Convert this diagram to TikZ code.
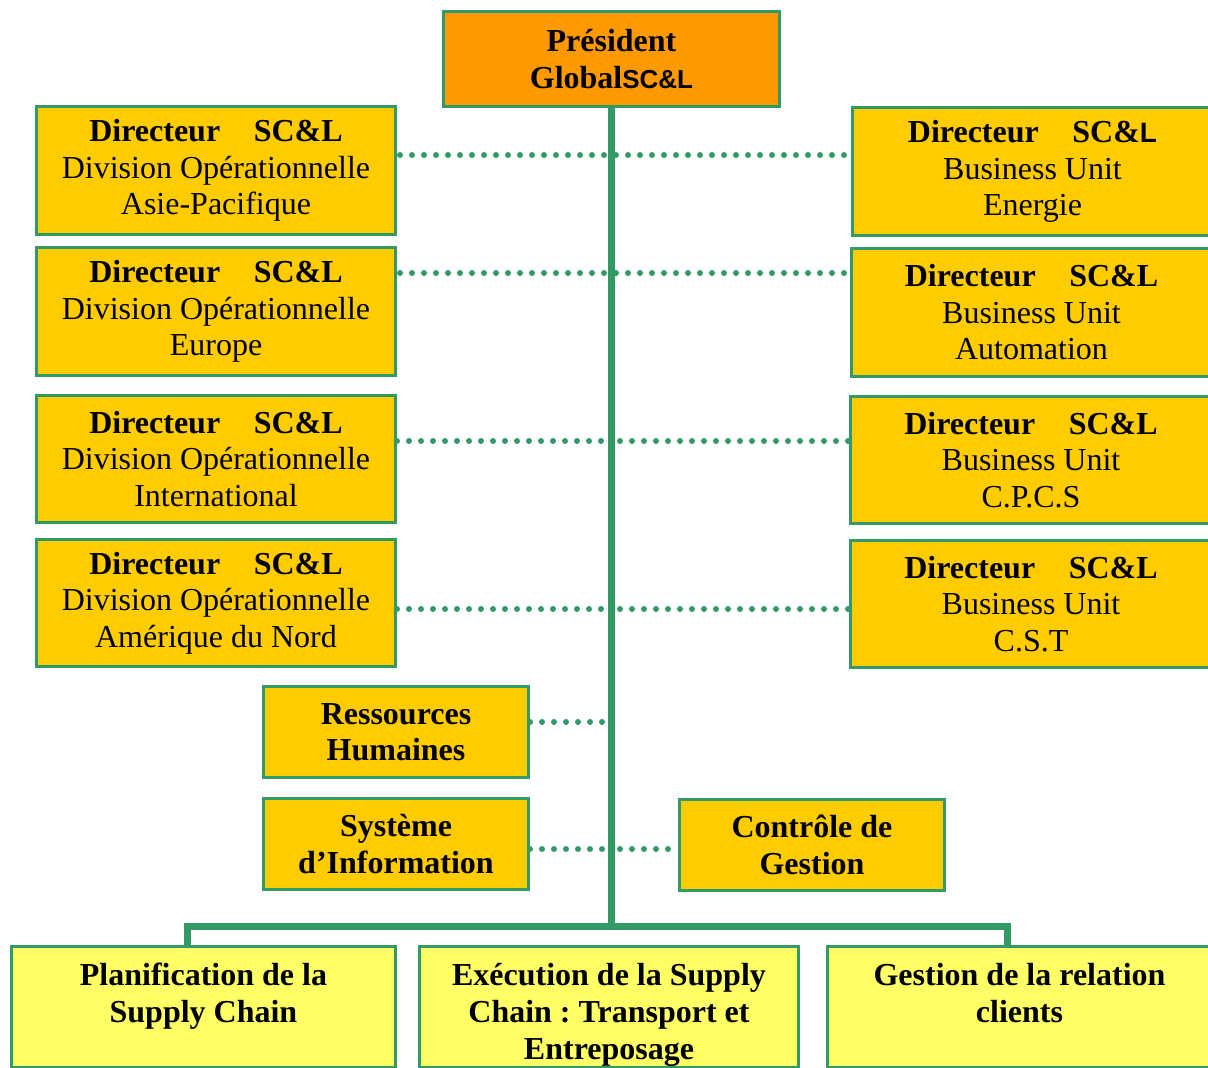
\documentclass[tikz,border=0pt]{standalone}
\usepackage{fontspec}
\setmainfont{Liberation Serif}
\newfontfamily\sansf{Liberation Sans}
\usetikzlibrary{calc}
\definecolor{gr}{HTML}{339966}
\definecolor{orng}{HTML}{FF9900}
\definecolor{gold}{HTML}{FFCC00}
\definecolor{lyel}{HTML}{FFFF66}
\tikzset{
  box/.style={draw=gr, line width=3pt, inner sep=0pt, align=center, anchor=north west,
    font=\fontsize{32}{36.5}\selectfont\frenchspacing},
  dir/.style={box, fill=gold, minimum width=359pt, minimum height=128pt},
  small/.style={box, fill=gold, minimum width=265pt, minimum height=91pt, font=\fontsize{32}{36.5}\selectfont\bfseries},
  bottom/.style={box, fill=lyel, minimum height=121pt, font=\fontsize{32}{37}\selectfont\bfseries\frenchspacing},
  dots/.style={draw=gr, line width=6pt, line cap=round, dash pattern=on 0pt off 12pt},
  trunk/.style={draw=gr, line width=7pt}
}
\newcommand{\dirtitle}{\textbf{Directeur\hspace{1.05em}SC\&L}}
\newcommand{\dirtitleS}{\textbf{Directeur\hspace{1.05em}SC\&{\sansf\fontsize{28}{36.5}\selectfont L}}}
\newcommand{\topstrut}{\rule{0pt}{38pt}}
\newcommand{\botstrut}{\rule[-8pt]{0pt}{8pt}}
\begin{document}
\begin{tikzpicture}[x=1pt,y=-1pt]
\useasboundingbox (0,0) rectangle (1208,1068);
\clip (0,0) rectangle (1208,1068);

\node[box, fill=orng, minimum width=336pt, minimum height=95pt, font=\fontsize{32}{37.5}\selectfont\bfseries] (P) at (442,10)
  {Président\\Global{\sansf\fontsize{26}{37.5}\selectfont SC\&L}};

\node[dir] (L1) at (35,105) {\dirtitle\\Division Opérationnelle\\Asie-Pacifique};
\node[dir] (L2) at (35,246) {\dirtitle\\Division Opérationnelle\\Europe};
\node[dir, minimum height=127pt] (L3) at (35,394) {\dirtitle\\Division Opérationnelle\\International};
\node[dir, minimum height=127pt] (L4) at (35,538) {\dirtitle\\Division Opérationnelle\\Amérique du Nord};

\node[dir, minimum width=360pt] (R1) at (851,106) {\dirtitleS\\Business Unit\\Energie};
\node[dir, minimum width=360pt] (R2) at (850,247) {\dirtitle\\Business Unit\\Automation};
\node[dir, minimum width=361pt, minimum height=127pt] (R3) at (849,395) {\dirtitle\\Business Unit\\C.P.C.S};
\node[dir, minimum width=361pt, minimum height=127pt] (R4) at (849,539) {\dirtitle\\Business Unit\\C.S.T};

\node[small] (RH) at (262,685) {Ressources\\Humaines};
\node[small] (SI) at (262,797) {Système\\d’Information};
\node[small] (CG) at (678,798) {Contrôle de\\Gestion};

\node[bottom, minimum width=384pt] (B1) at (10,945) {\topstrut Planification de la\\Supply Chain\\\botstrut};
\node[bottom, minimum width=379pt] (B2) at (418,945) {\topstrut Exécution de la Supply\\Chain : Transport et\\Entreposage\botstrut};
\node[bottom, minimum width=384pt] (B3) at (826,945) {\topstrut Gestion de la relation\\clients\\\botstrut};

% dotted links
\draw[dots] (L1.east |- 0,155) ++(3,0) -- (R1.west |- 0,155);
\draw[dots] (L2.east |- 0,273) ++(3,0) -- (R2.west |- 0,273);
\draw[dots] (L3.east |- 0,441) -- (603,441);
\draw[dots] (620,441) -- (R3.west |- 0,441);
\draw[dots] (L4.east |- 0,609) -- (603,609);
\draw[dots] (620,609) -- (R4.west |- 0,609);
\draw[dots] (RH.east |- 0,722) -- (603,722);
\draw[dots] (SI.east |- 0,849) -- (603,849);
\draw[dots] (620,849) -- (CG.west |- 0,849);

% trunk
\coordinate (j) at (P.south |- 0,926);
\coordinate (b1) at (187,946);
\coordinate (b3) at (1007,946);
\draw[trunk] (P.south) -- ([yshift=3.5pt]j);
\draw[trunk] (b1) -- (b1 |- j) -- (b3 |- j) -- (b3);
\end{tikzpicture}
\end{document}
